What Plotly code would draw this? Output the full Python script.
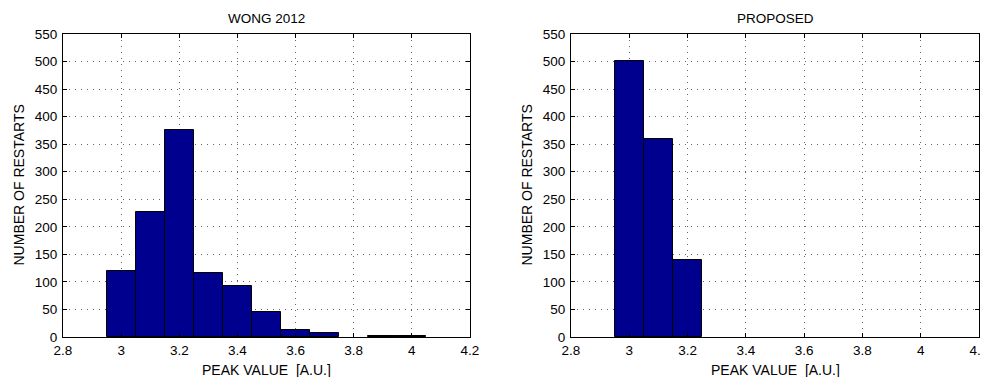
import plotly.graph_objects as go
from plotly.subplots import make_subplots

bin_centers = [3.0, 3.1, 3.2, 3.3, 3.4, 3.5, 3.6, 3.7, 3.8, 3.9, 4.0]
wong_counts = [119, 227, 375, 117, 93, 46, 12, 8, 0, 2, 1]
proposed_counts = [501, 360, 139, 0, 0, 0, 0, 0, 0, 0, 0]

x_tick_vals = [2.8, 3.0, 3.2, 3.4, 3.6, 3.8, 4.0, 4.2]
x_tick_text = ["2.8", "3", "3.2", "3.4", "3.6", "3.8", "4", "4.2"]
y_tick_vals = list(range(0, 551, 50))

titles = ["WONG 2012", "PROPOSED"]
x_title = "PEAK VALUE  [A.U.]"
y_title = "NUMBER OF RESTARTS"

FONT = "Liberation Sans, Arial, Helvetica, sans-serif"
BAR_COLOR = "#00008F"

fig = make_subplots(rows=1, cols=2, horizontal_spacing=0.1)

for i, counts in enumerate([wong_counts, proposed_counts]):
    fig.add_trace(
        go.Bar(
            x=bin_centers,
            y=counts,
            width=0.1,
            marker=dict(
                color=BAR_COLOR,
                line=dict(color="black", width=[1 if c > 0 else 0 for c in counts]),
            ),
            showlegend=False,
        ),
        row=1,
        col=i + 1,
    )

# page body has an 8px default margin, so the figure is offset by 8px
OFF = 8
W, H = 988 - OFF, 377 - OFF
plot_top, plot_bottom = 34 - OFF, 337 - OFF
ydom = [1 - plot_bottom / H, 1 - plot_top / H]
xdoms = [[(63 - OFF) / W, (470 - OFF) / W], [(571 - OFF) / W, (979 - OFF) / W]]

axis_common = dict(
    showline=True,
    linecolor="black",
    linewidth=1,
    mirror="ticks",
    ticks="inside",
    ticklen=4,
    tickcolor="black",
    showgrid=True,
    gridcolor="#666666",
    griddash="1px,5px",
    gridwidth=1,
    zeroline=False,
    automargin=False,
    ticklabeloverflow="allow",
    tickfont=dict(family=FONT, size=13.5, color="black"),
)

for i in range(2):
    xa = "xaxis" if i == 0 else "xaxis2"
    ya = "yaxis" if i == 0 else "yaxis2"
    fig.layout[xa].update(
        domain=xdoms[i],
        range=[2.8, 4.2],
        tickvals=x_tick_vals,
        ticktext=x_tick_text,
        ticklabelstandoff=1,
        **axis_common,
    )
    fig.layout[ya].update(
        domain=ydom,
        range=[0, 550],
        tickvals=y_tick_vals,
        ticklabelstandoff=2,
        **axis_common,
    )
    xc = (xdoms[i][0] + xdoms[i][1]) / 2
    # subplot title
    fig.add_annotation(
        text=titles[i], x=xc, y=1 - (18 - OFF) / H,
        xref="paper", yref="paper", xanchor="center", yanchor="middle",
        showarrow=False, font=dict(family=FONT, size=13.5, color="black"),
    )
    # x-axis title
    fig.add_annotation(
        text=x_title, x=xc, y=1 - (370 - OFF) / H,
        xref="paper", yref="paper", xanchor="center", yanchor="middle",
        showarrow=False, font=dict(family=FONT, size=14, color="black"),
    )
    # y-axis title
    y_title_x = [18, 526][i]
    fig.add_annotation(
        text=y_title, x=(y_title_x - OFF) / W, y=(ydom[0] + ydom[1]) / 2,
        xref="paper", yref="paper", xanchor="center", yanchor="middle",
        textangle=-90, showarrow=False, font=dict(family=FONT, size=14, color="black"),
    )

fig.update_layout(
    width=W,
    height=H,
    margin=dict(l=0, r=0, t=0, b=0),
    paper_bgcolor="white",
    plot_bgcolor="white",
    bargap=0,
)

fig.write_html("out.html")
